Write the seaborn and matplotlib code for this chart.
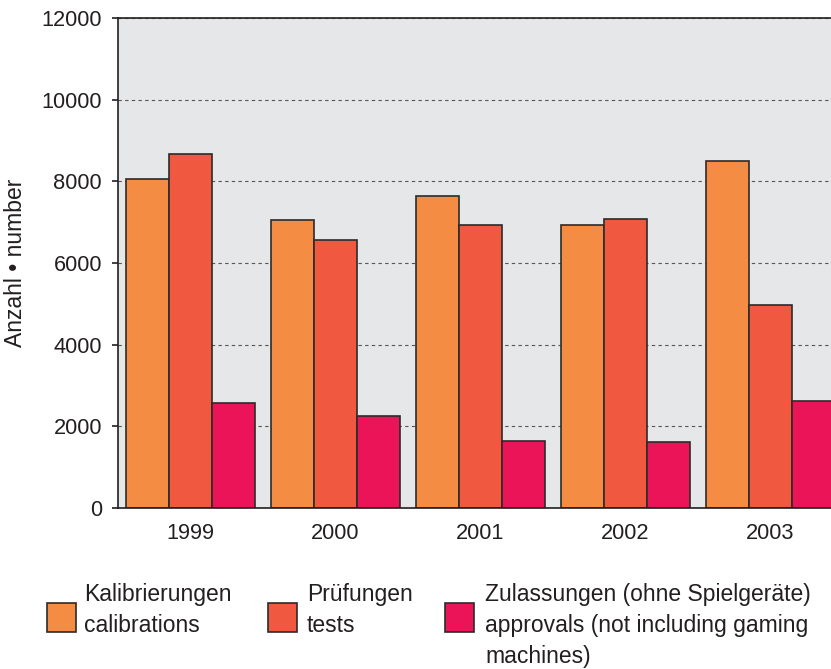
import numpy as np
import pandas as pd
import matplotlib
matplotlib.use("Agg")
import matplotlib.pyplot as plt
from matplotlib.patches import Rectangle
import seaborn as sns

# ---- data ----
years = ["1999", "2000", "2001", "2002", "2003"]
calibrations = [8050, 7060, 7630, 6940, 8510]
tests = [8660, 6560, 6920, 7070, 4960]
approvals = [2580, 2260, 1650, 1610, 2630]
series_labels = [
    "Kalibrierungen\ncalibrations",
    "Prüfungen\ntests",
    "Zulassungen (ohne Spielgeräte)\napprovals (not including gaming\nmachines)",
]
colors = ["#F58C43", "#F0583F", "#EC1459"]
yticks = [0, 2000, 4000, 6000, 8000, 10000, 12000]

df = pd.DataFrame({
    "Jahr": years * 3,
    "Wert": calibrations + tests + approvals,
    "Serie": [series_labels[0]] * 5 + [series_labels[1]] * 5 + [series_labels[2]] * 5,
})

sns.set_style("white")
plt.rcParams["font.family"] = ["Liberation Sans", "DejaVu Sans"]

W, H = 831, 669
fig = plt.figure(figsize=(W / 100, H / 100), dpi=100)
ax = fig.add_axes([118 / W, (H - 508) / H, 725 / W, 490 / H])

sns.barplot(data=df, x="Jahr", y="Wert", hue="Serie", palette=colors,
            hue_order=series_labels, width=0.89, saturation=1,
            edgecolor="#2b2b2b", linewidth=1.2, ax=ax, legend=False)

dark = "#231f20"
fs_tick = 15.7
ax.set_xlim(-0.5, 4.5)
ax.set_ylim(0, 12000)
ax.set_yticks(yticks)
ax.set_yticklabels([str(v) for v in yticks])
ax.set_facecolor("#E6E7E9")
ax.yaxis.grid(True, linestyle=(0, (3, 3)), color="#555555", linewidth=0.8)
ax.xaxis.grid(False)
ax.set_axisbelow(True)

for side in ["top", "left", "bottom"]:
    ax.spines[side].set_visible(True)
    ax.spines[side].set_color(dark)
    ax.spines[side].set_linewidth(1.2)
ax.spines["right"].set_visible(False)

ax.set_xticks(np.arange(-0.5, 5.0, 1.0), minor=True)
ax.tick_params(axis="x", which="major", length=0, pad=11, labelsize=fs_tick, labelcolor=dark)
ax.tick_params(axis="x", which="minor", length=7, width=1.2, color=dark, direction="out")
ax.tick_params(axis="y", which="major", length=4.5, width=1.2, color=dark, pad=7,
               labelsize=fs_tick, labelcolor=dark, direction="out", left=True)

ax.set_xlabel("")
ax.set_ylabel("Anzahl • number", fontsize=16.5, color=dark)
ax.yaxis.set_label_coords((27 - 118) / 725, 0.5)

# ---- legend below (manual layout) ----
sq_x = [47, 268, 445]
txt_x = [84, 307, 485]
baselines = [601, 632, 663]
for i, lab in enumerate(series_labels):
    fig.patches.append(Rectangle((sq_x[i] / W, (H - 632) / H), 29 / W, 29 / H,
                                 transform=fig.transFigure, facecolor=colors[i],
                                 edgecolor="#2b2b2b", linewidth=1.2))
    for j, line in enumerate(lab.split("\n")):
        fig.text(txt_x[i] / W, (H - baselines[j]) / H, line, fontsize=16.5,
                 color=dark, ha="left", va="baseline")

fig.savefig("out.png", dpi=100)
